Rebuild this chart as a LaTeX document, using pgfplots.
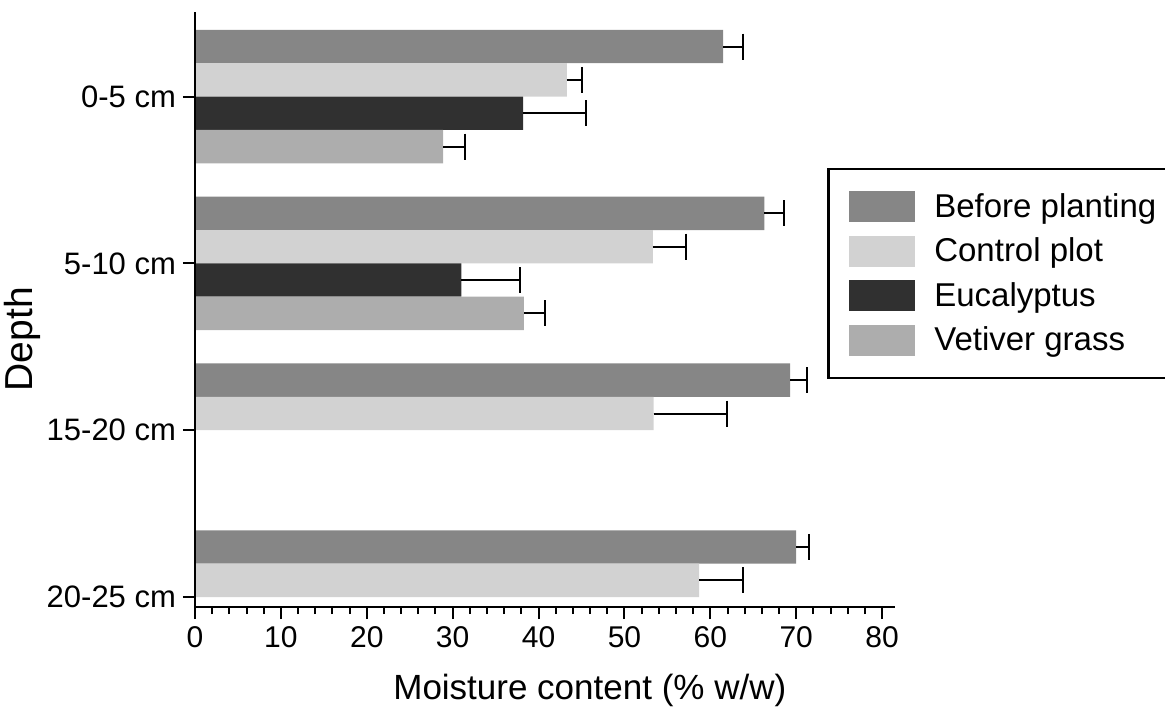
\documentclass[border=0pt]{standalone}
\usepackage{fontspec}
\setmainfont{Liberation Sans}
\usepackage{pgfplots}
\pgfplotsset{compat=1.18}
\definecolor{cBefore}{HTML}{868686}
\definecolor{cControl}{HTML}{D2D2D2}
\definecolor{cEuc}{HTML}{303030}
\definecolor{cVet}{HTML}{ADADAD}
\begin{document}
\begin{tikzpicture}
\path[use as bounding box] (-97.5pt,-52pt) rectangle (485pt,303.5pt);
\begin{axis}[
  at={(0,0)}, anchor=south west,
  scale only axis, width=350pt, height=297.5pt,
  axis on top,
  xbar, bar shift=0pt, bar width=0.2,
  xmin=0, xmax=81.5, ymin=-0.507, ymax=3.06, y dir=reverse,
  axis x line*=bottom, axis y line*=left,
  axis line style={line width=1pt, -},
  xtick={0,10,...,80}, minor x tick num=4,
  ytick={0,1,2,3}, yticklabels={0-5 cm,5-10 cm,15-20 cm,20-25 cm},
  tick align=outside, major tick length=6pt, minor tick length=3.5pt,
  every tick/.style={line width=1pt, black},
  /pgf/number format/assume math mode=true,
  xticklabel style={font=\fontsize{15}{18}\selectfont},
  yticklabel style={font=\fontsize{15.5}{18}\selectfont},
  xlabel={Moisture content (\% w/w)},
  ylabel={Depth},
  xlabel style={font=\fontsize{17.5}{20}\selectfont, at={(axis description cs:0.564,-0.14)}, anchor=center},
  ylabel style={font=\fontsize{19.5}{22}\selectfont, at={(axis description cs:-0.247,0.45)}, anchor=center},
  legend style={at={(0.903,0.738)}, anchor=north west, draw=black, line width=1.2pt,
    inner xsep=10.5pt, inner ysep=11pt, row sep=6.8pt,
    nodes={inner sep=0pt}, font=\fontsize{16.5}{19}\selectfont},
  legend cell align=left,
  /tikz/every odd column/.append style={column sep=9.5pt},
  legend image code/.code={\fill[#1] (0pt,-7.75pt) rectangle (33pt,7.75pt);},
  error bars/x dir=plus, error bars/x explicit,
  error bars/error mark=|,
  error bars/error bar style={line width=1pt, black},
  error bars/error mark options={mark size=6.5pt, line width=1pt, black},
]
\addplot[fill=cBefore, draw=none] coordinates {
  (61.5,-0.3) +- (2.3,0)
  (66.3,0.7) +- (2.3,0)
  (69.3,1.7) +- (1.9,0)
  (70.0,2.7) +- (1.5,0)
};
\addlegendentry{Before planting}
\addplot[fill=cControl, draw=none] coordinates {
  (43.3,-0.1) +- (1.7,0)
  (53.3,0.9) +- (3.9,0)
  (53.4,1.9) +- (8.5,0)
  (58.7,2.9) +- (5.1,0)
};
\addlegendentry{Control plot}
\addplot[fill=cEuc, draw=none] coordinates {
  (38.2,0.1) +- (7.3,0)
  (31.0,1.1) +- (6.8,0)
};
\addlegendentry{Eucalyptus}
\addplot[fill=cVet, draw=none] coordinates {
  (28.9,0.3) +- (2.5,0)
  (38.3,1.3) +- (2.4,0)
};
\addlegendentry{Vetiver grass}
\end{axis}
\end{tikzpicture}
\end{document}
